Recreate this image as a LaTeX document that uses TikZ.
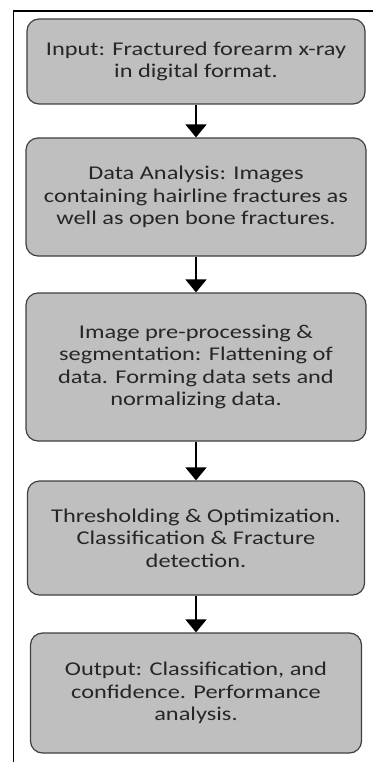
\documentclass[tikz,border=0pt]{standalone}
\usepackage{fontspec}
\setmainfont[FakeStretch=1.25]{Carlito}
\usetikzlibrary{arrows.meta}

\begin{document}
\begin{tikzpicture}[x=1pt,y=-1pt,
    stage/.style={draw=black!75,line width=1.2pt,fill=black!25,rounded corners=12pt,
      align=center,inner sep=0pt,font=\fontsize{19.5}{22.5}\selectfont,text=black!85},
    flow/.style={line width=1.6pt,-{Triangle[width=21pt,length=13pt]}}]
    \useasboundingbox (0,0) rectangle (373,762);
    \draw[line width=1.8pt] (373,11) -- (13.5,11) -- (13.5,762);

    \node at (196,61.5) [stage,minimum width=338pt,minimum height=85pt] (input) {Input: Fractured forearm x-ray\\in digital format.};
    \node at (196,197) [stage,minimum width=340pt,minimum height=118pt] (analysis) {Data Analysis: Images\\containing hairline fractures as\\well as open bone fractures.};
    \node at (196,367) [stage,minimum width=340pt,minimum height=148pt] (prep) {Image pre-processing \&\\segmentation: Flattening of\\data. Forming data sets and\\normalizing data.};
    \node at (196,538) [stage,minimum width=337pt,minimum height=114pt] (thresh) {Thresholding \& Optimization.\\Classification \& Fracture\\detection.};
    \node at (196,693) [stage,minimum width=331pt,minimum height=120pt] (output) {Output: Classification, and\\confidence. Performance\\analysis.};

    \draw[flow] (input) -- (analysis);
    \draw[flow] (analysis) -- (prep);
    \draw[flow] (prep) -- (thresh);
    \draw[flow] (thresh) -- (output);
\end{tikzpicture}
\end{document}
